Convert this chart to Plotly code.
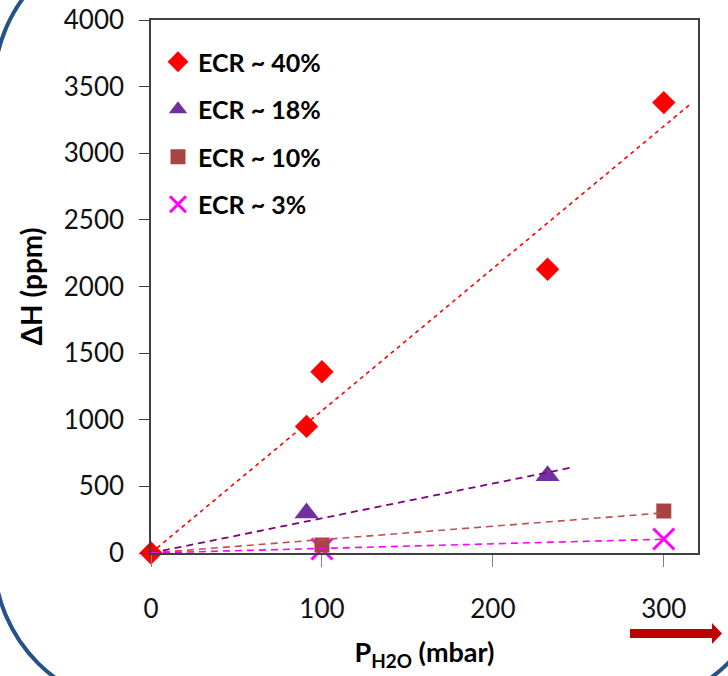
import numpy as np
import plotly.graph_objects as go

# ---------------- data ----------------
series_names = ["ECR ~ 40%", "ECR ~ 18%", "ECR ~ 10%", "ECR ~ 3%"]
p_h2o_40 = [0, 91, 100, 232, 300]
dh_40 = [0, 950, 1360, 2130, 3380]
p_h2o_18 = [91, 232]
dh_18 = [300, 580]
p_h2o_10 = [100, 300]
dh_10 = [60, 315]
p_h2o_3 = [100, 300]
dh_3 = [30, 105]
trend_end = [315, 247, 300, 300]   # trendline forecast extent (mbar)

x_ticks = [0, 100, 200, 300]
y_ticks = [0, 500, 1000, 1500, 2000, 2500, 3000, 3500, 4000]

# ---------------- layout geometry (pixels) ----------------
W, H = 728, 676
L, R_, T, B = 151, 698, 20, 553   # plot area edges in pixels
PW, PH = R_ - L, B - T


def px(xp):
    return (xp - L) / PW


def py(yp):
    return (B - yp) / PH


def path_from_pixels(cmds):
    out = []
    for c in cmds:
        op, pts = c[0], c[1:]
        s = op + " ".join(f"{px(a):.5f},{py(b):.5f}" for a, b in pts)
        out.append(s)
    return " ".join(out) + " Z"


styles = [
    dict(symbol="diamond", size=18, color="#FF0000", lc="#FF0000", dash="4px,4px", lw=1.6),
    dict(symbol="triangle-up", size=21, color="#7030A0", lc="#800080", dash="7px,5px", lw=1.8),
    dict(symbol="square", size=15, color="#AA4444", lc="#C0504D", dash="7px,5px", lw=1.6),
    dict(symbol="x-thin", size=21, color="#FF00FF", lc="#FF00FF", dash="7px,5px", lw=1.6),
]
xs = [p_h2o_40, p_h2o_18, p_h2o_10, p_h2o_3]
ys = [dh_40, dh_18, dh_10, dh_3]

fig = go.Figure()

# markers (drawn in reverse so the red diamonds sit on top)
order = [3, 2, 1, 0]
for i in order:
    st = styles[i]
    if st["symbol"] == "x-thin":
        marker = dict(symbol="x-thin", size=st["size"], color=st["color"],
                      line=dict(color=st["color"], width=3))
    else:
        marker = dict(symbol=st["symbol"], size=st["size"], color=st["color"],
                      line=dict(width=0))
    fig.add_trace(go.Scatter(
        x=xs[i], y=ys[i], mode="markers", name=series_names[i],
        marker=marker, cliponaxis=False, legendgroup=f"g{i}",
        legendrank=i + 1))

# trendlines (linear, forced through origin), drawn over the markers as in the original
for x, y, st, xe in zip(xs, ys, styles, trend_end):
    xa, ya = np.array(x, float), np.array(y, float)
    slope = (xa * ya).sum() / (xa * xa).sum()
    fig.add_trace(go.Scatter(
        x=[0, xe], y=[0, slope * xe], mode="lines",
        line=dict(color=st["lc"], width=st["lw"], dash=st["dash"]),
        showlegend=False, hoverinfo="skip", cliponaxis=False))

# ---------------- decorations ----------------
x0, x1, y0, y1, Rr = -6, 772, -63, 707, 150
k = 0.5523 * Rr
rr_cmds = [
    ("M", (x0 + Rr, y0)),
    ("L", (x1 - Rr, y0)),
    ("C", (x1 - Rr + k, y0), (x1, y0 + Rr - k), (x1, y0 + Rr)),
    ("L", (x1, y1 - Rr)),
    ("C", (x1, y1 - Rr + k), (x1 - Rr + k, y1), (x1 - Rr, y1)),
    ("L", (x0 + Rr, y1)),
    ("C", (x0 + Rr - k, y1), (x0, y1 - Rr + k), (x0, y1 - Rr)),
    ("L", (x0, y0 + Rr)),
    ("C", (x0, y0 + Rr - k), (x0 + Rr - k, y0), (x0 + Rr, y0)),
]
fig.add_shape(type="path", xref="paper", yref="paper",
              path=path_from_pixels(rr_cmds),
              line=dict(color="#255287", width=4), layer="below")

arrow_cmds = [
    ("M", (630, 629)), ("L", (712, 629)), ("L", (712, 623)), ("L", (722, 633.5)),
    ("L", (712, 644)), ("L", (712, 638)), ("L", (630, 638)),
]
fig.add_shape(type="path", xref="paper", yref="paper",
              path=path_from_pixels(arrow_cmds),
              fillcolor="#C00000", line=dict(width=0))

axis_col = "#404040"
tick_font = dict(family="Lato", size=26, color="#111111")

fig.update_layout(
    width=W, height=H,
    margin=dict(l=L, r=W - R_, t=T, b=H - B, autoexpand=False),
    paper_bgcolor="white", plot_bgcolor="white",
    showlegend=True,
    legend=dict(x=px(158), y=py(39), xanchor="left", yanchor="top",
                bgcolor="rgba(0,0,0,0)", borderwidth=0,
                font=dict(family="Lato", size=25, color="#000000", weight="bold"),
                tracegroupgap=12, itemwidth=30, traceorder="grouped"),
    xaxis=dict(range=[0, 320], tickvals=x_ticks, ticktext=[str(v) for v in x_ticks],
               ticks="outside", ticklen=12, tickwidth=1.3, tickcolor="#808080",
               showline=True, linecolor=axis_col, linewidth=2, mirror=True,
               showgrid=False, zeroline=False, tickfont=tick_font,
               ticklabelstandoff=20,
               title=dict(text="<b>P<sub>H2O</sub> (mbar)</b>",
                          font=dict(family="Lato", size=27, color="#000000"),
                          standoff=20)),
    yaxis=dict(range=[0, 4000], tickvals=y_ticks, ticktext=[str(v) for v in y_ticks],
               ticks="outside", ticklen=10, tickwidth=1.3, tickcolor="#404040",
               showline=True, linecolor=axis_col, linewidth=1.5, mirror=True,
               showgrid=False, zeroline=False, tickfont=tick_font,
               ticklabelstandoff=10,
               title=dict(text="<b>ΔH (ppm)</b>",
                          font=dict(family="Lato", size=28, color="#000000"),
                          standoff=13)),
)

fig.write_html("out.html",
               config={"displayModeBar": False},
               post_script="document.body.style.margin='0px';document.body.style.padding='0px';")
